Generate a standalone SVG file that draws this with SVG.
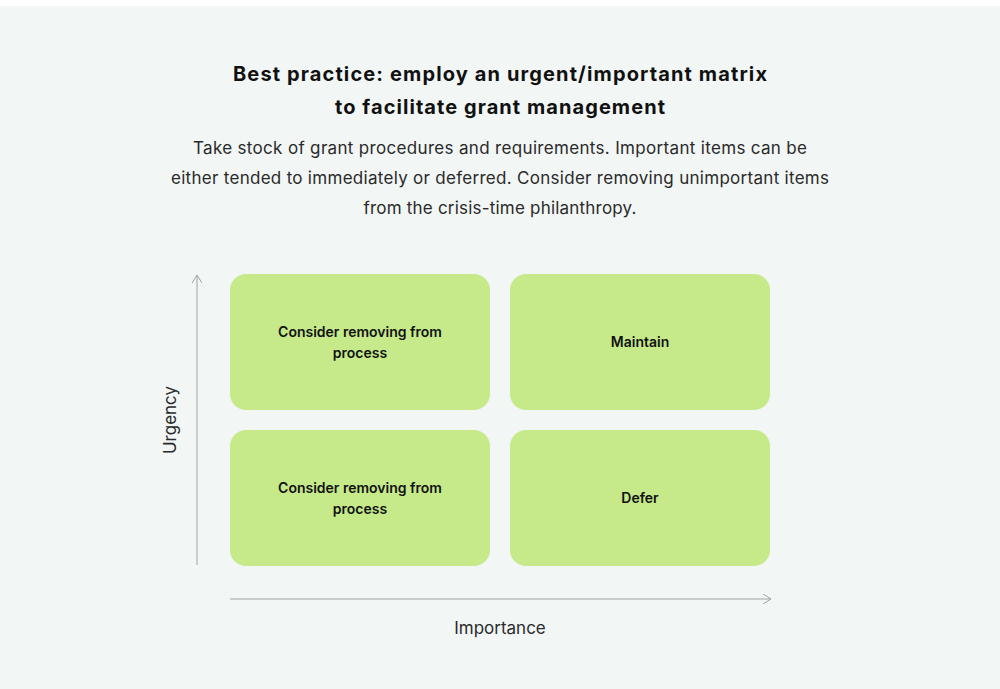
<svg xmlns="http://www.w3.org/2000/svg" width="1000" height="689" viewBox="0 0 1000 689">
<style>
.title{font-family:Inter,"Liberation Sans",sans-serif;font-weight:700;font-size:20px;fill:#111;text-anchor:middle}
.body{font-family:Inter,"Liberation Sans",sans-serif;font-size:17px;fill:#2a2a2a;text-anchor:middle}
.box{fill:#c6ea8a}
.lbl{font-family:Inter,"Liberation Sans",sans-serif;font-weight:600;font-size:14px;fill:#111;text-anchor:middle}
.axis{stroke:#a0a4a2;stroke-width:1;fill:none}
.axl{font-family:Inter,"Liberation Sans",sans-serif;font-size:17px;fill:#2a2a2a;text-anchor:middle}
</style>
<defs>
<marker id="arr" viewBox="0 0 10 10" refX="9" refY="5" markerWidth="10" markerHeight="10" markerUnits="userSpaceOnUse" orient="auto">
<path d="M1,0 L9,5 L1,10" fill="none" stroke="#a0a4a2" stroke-width="1"/>
</marker>
</defs>
<rect x="0" y="0" width="1000" height="689" fill="#ffffff"/>
<rect x="0" y="6" width="1000" height="683" fill="#f2f6f5"/>
<text class="title" x="500" y="81" textLength="534" lengthAdjust="spacing">Best practice: employ an urgent/important matrix</text>
<text class="title" x="500" y="114" textLength="330" lengthAdjust="spacing">to facilitate grant management</text>
<text class="body" x="500" y="154" textLength="614" lengthAdjust="spacing">Take stock of grant procedures and requirements. Important items can be</text>
<text class="body" x="500" y="184" textLength="658" lengthAdjust="spacing">either tended to immediately or deferred. Consider removing unimportant items</text>
<text class="body" x="500" y="214" textLength="273" lengthAdjust="spacing">from the crisis-time philanthropy.</text>
<g id="connectors">
<line class="axis" x1="197" y1="565" x2="197" y2="275" marker-end="url(#arr)"/>
<line class="axis" x1="230" y1="599" x2="771" y2="599" marker-end="url(#arr)"/>
</g>
<g id="q1">
<rect class="box" x="230" y="274" width="260" height="136" rx="16"/>
<text class="lbl" x="360" y="337">Consider removing from</text>
<text class="lbl" x="360" y="358">process</text>
</g>
<g id="q2">
<rect class="box" x="510" y="274" width="260" height="136" rx="16"/>
<text class="lbl" x="640" y="347">Maintain</text>
</g>
<g id="q3">
<rect class="box" x="230" y="430" width="260" height="136" rx="16"/>
<text class="lbl" x="360" y="493">Consider removing from</text>
<text class="lbl" x="360" y="514">process</text>
</g>
<g id="q4">
<rect class="box" x="510" y="430" width="260" height="136" rx="16"/>
<text class="lbl" x="640" y="503">Defer</text>
</g>
<text class="axl" x="500" y="634">Importance</text>
<text class="axl" transform="translate(176,420) rotate(-90)">Urgency</text>
</svg>
